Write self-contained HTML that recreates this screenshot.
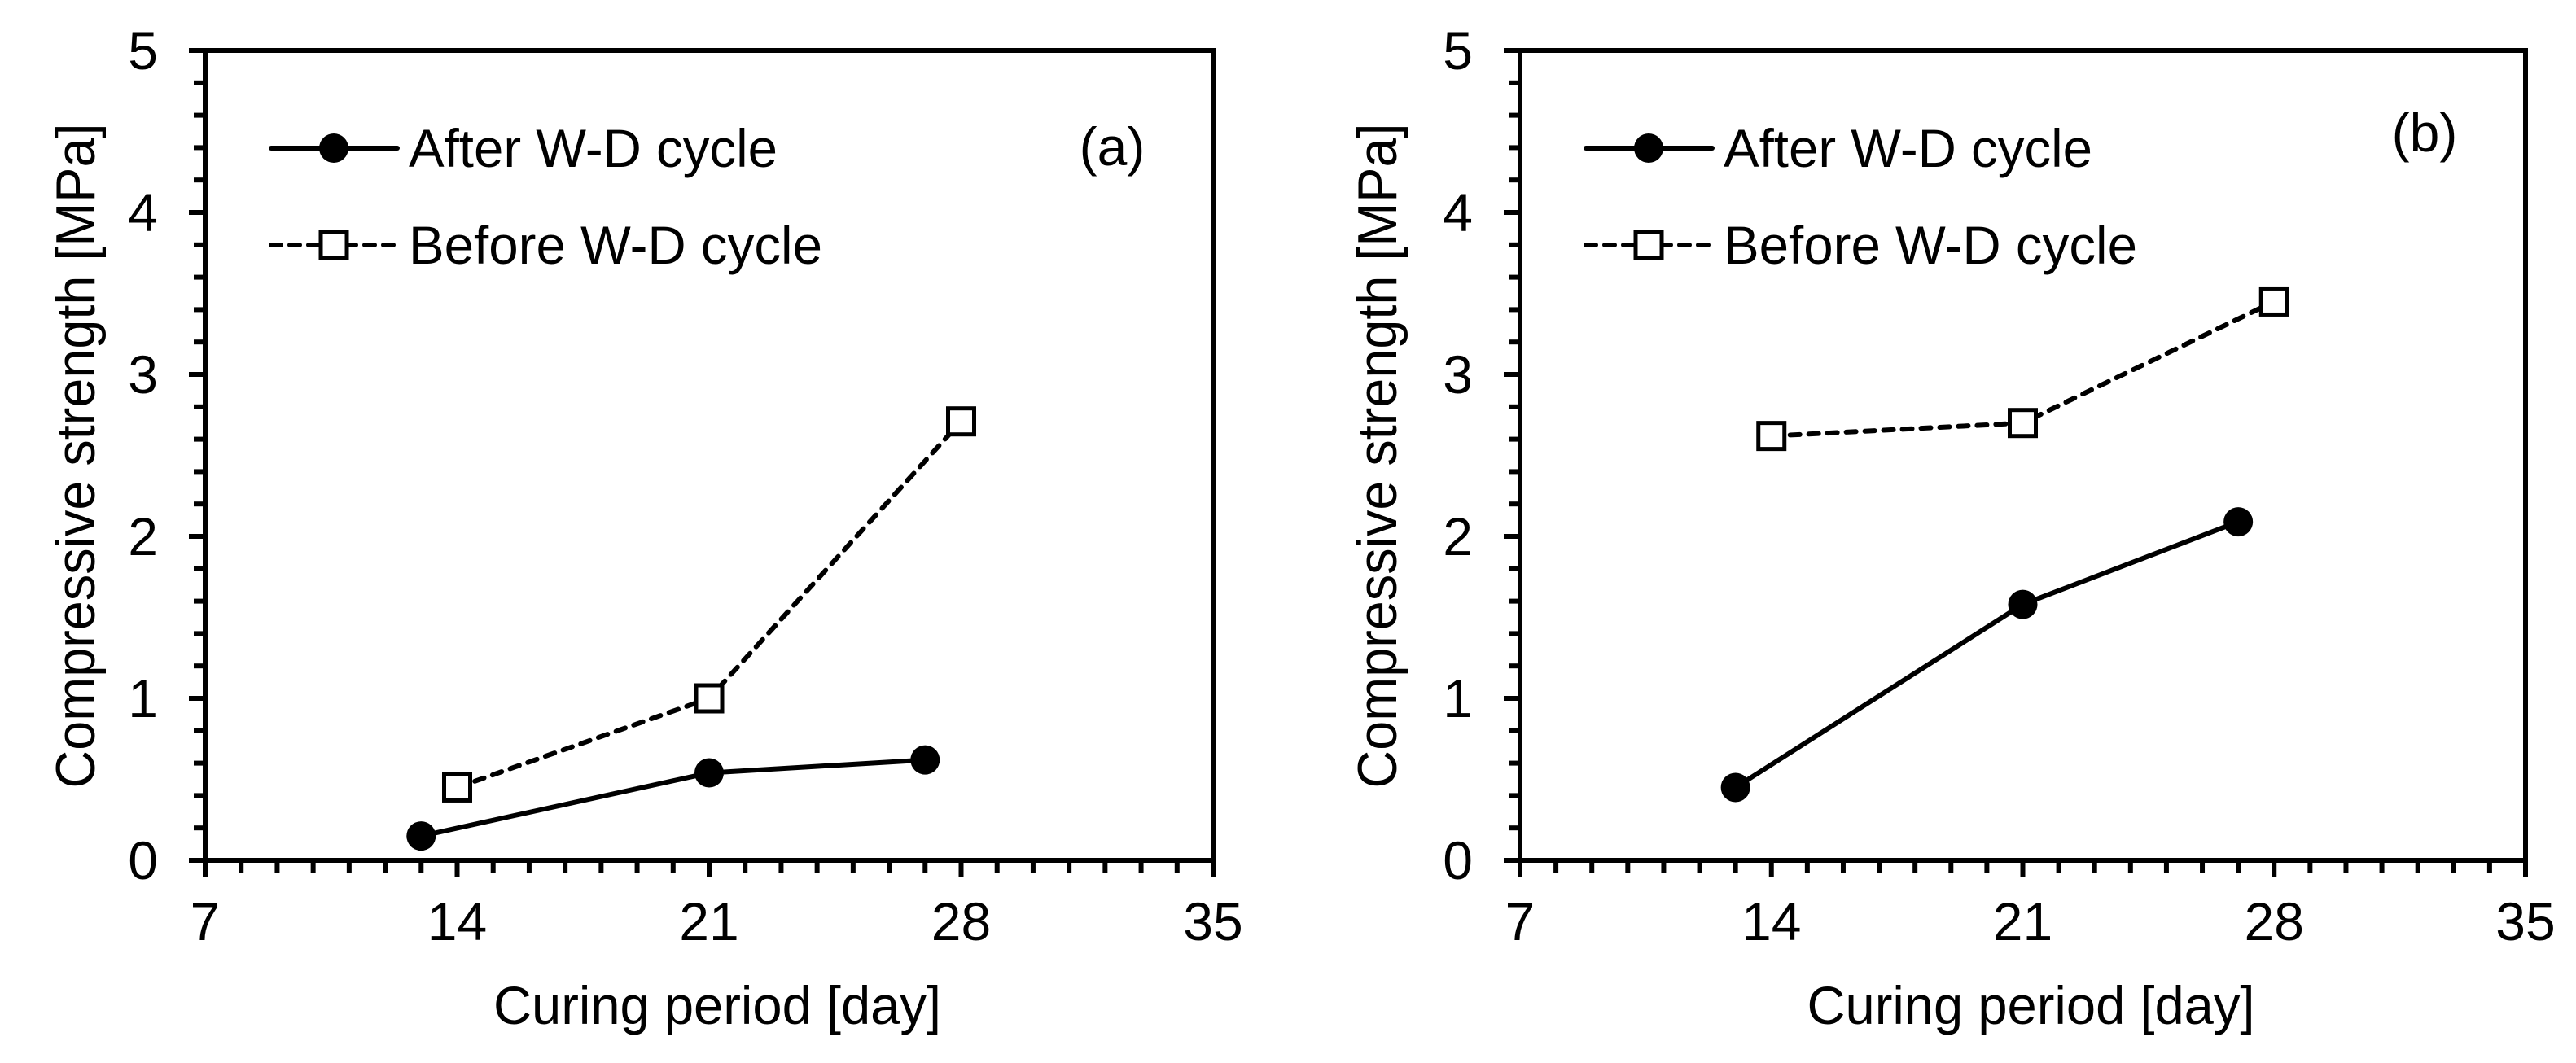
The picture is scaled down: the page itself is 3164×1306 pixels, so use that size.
<!DOCTYPE html>
<html><head><meta charset="utf-8">
<style>
html,body{margin:0;padding:0;background:#fff;}
svg{display:block;}
text{font-family:"Liberation Sans",Arial,sans-serif;fill:#000;}
</style></head>
<body>
<svg id="chart" width="3164" height="1306" viewBox="0 0 3164 1306" xmlns="http://www.w3.org/2000/svg"></svg>
<script>
// Shared axes data
const xTicks = [7, 14, 21, 28, 35];
const yTicks = [0, 1, 2, 3, 4, 5];
const seriesNames = ["After W-D cycle", "Before W-D cycle"];

// Panel (a)
const aAfterX = [13, 21, 27];
const aAfterY = [0.15, 0.54, 0.62];
const aBeforeX = [14, 21, 28];
const aBeforeY = [0.45, 1.0, 2.71];

// Panel (b)
const bAfterX = [13, 21, 27];
const bAfterY = [0.45, 1.58, 2.09];
const bBeforeX = [14, 21, 28];
const bBeforeY = [2.62, 2.70, 3.45];

const NS = "http://www.w3.org/2000/svg";
const svg = document.getElementById("chart");
const SW = 6;
function mk(tag, attrs, parent) {
  const e = document.createElementNS(NS, tag);
  for (const k in attrs) e.setAttribute(k, attrs[k]);
  (parent || svg).appendChild(e);
  return e;
}

function panel(cfg) {
  const g = mk("g", {});
  
  
  const L = cfg.left, R = cfg.right, T = 62, B = 1057;
  const xs = v => L + (v - 7) / 28 * (R - L);
  const ys = v => B - v / 5 * (B - T);

  const frame = mk("rect", {x: L, y: T, width: R - L, height: B - T, fill: "none", stroke: "#000", "stroke-width": SW}, g);
  
  

  for (let d = 7; d <= 35; d++) {
    const major = (d % 7 === 0);
    const t = mk("line", {x1: xs(d), x2: xs(d), y1: B, y2: B + (major ? 20 : 15), stroke: "#000", "stroke-width": SW}, g);
    
    
  }
  for (let i = 0; i <= 25; i++) {
    const v = i * 0.2;
    const major = (i % 5 === 0);
    const t = mk("line", {x1: L - (major ? 20 : 14), x2: L, y1: ys(v), y2: ys(v), stroke: "#000", "stroke-width": SW}, g);
    
    
  }
  xTicks.forEach(v => {
    const t = mk("text", {x: xs(v), y: 1155, "font-size": 66, "text-anchor": "middle"}, g);
    t.textContent = v;
    
    
  });
  yTicks.forEach(v => {
    const t = mk("text", {x: L - 58, y: ys(v) + 23, "font-size": 66, "text-anchor": "end"}, g);
    t.textContent = v;
    
    
  });
  const xt = mk("text", {x: (L + R) / 2 + 10, y: 1258, "font-size": 66, "text-anchor": "middle", textLength: 550, lengthAdjust: "spacingAndGlyphs"}, g);
  xt.textContent = "Curing period [day]";
  
  
  const yx = L - cfg.yTitleOff, yy = 560;
  const yt = mk("text", {x: yx, y: yy, "font-size": 68, "text-anchor": "middle", transform: `rotate(-90 ${yx} ${yy})`, textLength: 817, lengthAdjust: "spacingAndGlyphs"}, g);
  yt.textContent = "Compressive strength [MPa]";
  
  

  const pl = mk("text", {x: cfg.labelX, y: cfg.labelY, "font-size": 66, "text-anchor": "middle"}, g);
  pl.textContent = cfg.label;
  
  

  function drawSeries(X, Y, dashed, name) {
    const sg = mk("g", {}, g);
    
    
    const pts = X.map((x, i) => xs(x) + "," + ys(Y[i])).join(" ");
    const attrs = {points: pts, fill: "none", stroke: "#000", "stroke-width": SW, "stroke-linecap": "round", "stroke-linejoin": "round"};
    if (dashed) attrs["stroke-dasharray"] = "12 11";
    const pl = mk("polyline", attrs, sg);
    
    
    X.forEach((x, i) => {
      let m;
      if (dashed) {
        m = mk("rect", {x: xs(x) - 16, y: ys(Y[i]) - 16, width: 32, height: 32, fill: "#fff", stroke: "#000", "stroke-width": 5}, sg);
      } else {
        m = mk("circle", {cx: xs(x), cy: ys(Y[i]), r: 18, fill: "#000"}, sg);
      }
      
      
    });
  }
  drawSeries(cfg.afterX, cfg.afterY, false, 'after-wd-series');
  drawSeries(cfg.beforeX, cfg.beforeY, true, 'before-wd-series');

  const lg = mk("g", {}, g);
  
  
  const lx1 = L + 81, lx2 = L + 236, lm = L + 158;
  const e1 = mk("g", {}, lg);
  
  
  mk("line", {x1: lx1, x2: lx2, y1: 182, y2: 182, stroke: "#000", "stroke-width": SW, "stroke-linecap": "round"}, e1);
  mk("circle", {cx: lm, cy: 182, r: 18, fill: "#000"}, e1);
  const t1 = mk("text", {x: L + 250, y: 205, "font-size": 66, textLength: 453, lengthAdjust: "spacingAndGlyphs"}, e1);
  t1.textContent = seriesNames[0];
  const e2 = mk("g", {}, lg);
  
  
  mk("line", {x1: lx1, x2: lx2, y1: 301, y2: 301, stroke: "#000", "stroke-width": SW, "stroke-linecap": "round", "stroke-dasharray": "12 11"}, e2);
  mk("rect", {x: lm - 16, y: 285, width: 32, height: 32, fill: "#fff", stroke: "#000", "stroke-width": 5}, e2);
  const t2 = mk("text", {x: L + 250, y: 324, "font-size": 66, textLength: 508, lengthAdjust: "spacingAndGlyphs"}, e2);
  t2.textContent = seriesNames[1];
}

panel({name: 'panel-a', left: 252, right: 1490, yTitleOff: 136, label: '(a)', labelX: 1366, labelY: 203,
  afterX: aAfterX, afterY: aAfterY, beforeX: aBeforeX, beforeY: aBeforeY});
panel({name: 'panel-b', left: 1867, right: 3102, yTitleOff: 152, label: '(b)', labelX: 2978, labelY: 186,
  afterX: bAfterX, afterY: bAfterY, beforeX: bBeforeX, beforeY: bBeforeY});
</script>
</body></html>
